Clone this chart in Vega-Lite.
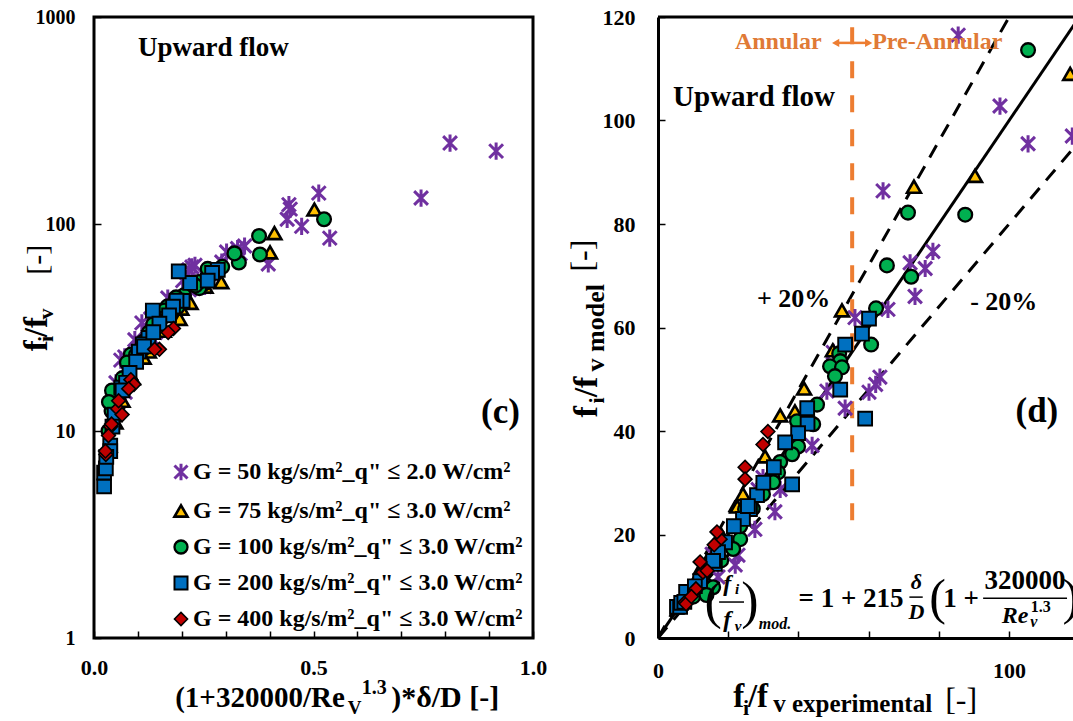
{
"$schema": "https://vega.github.io/schema/vega-lite/v6.json",
"background": "white",
"padding": {"left": 19, "top": 5, "right": 0, "bottom": 0},
"bounds": "flush",
"spacing": 125,
"config": {
  "view": {"stroke": null},
  "font": "Liberation Serif",
  "text": {"font": "Liberation Serif", "fontWeight": "bold", "color": "black"},
  "axis": {"labelFont": "Liberation Serif", "labelFontWeight": "bold", "labelFontSize": 21, "labelColor": "black", "grid": false, "tickColor": "black", "tickWidth": 1.5, "tickSize": -7, "domainColor": "black", "domainWidth": 3, "title": null, "labelFlush": false, "labelOverlap": false}
},
"datasets": {
  "pts": [
    {"g":"50","x":0.537,"e":85.5,"m":116.5},{"g":"50","x":0.473,"e":97.4,"m":102.8},{"g":"50","x":0.44,"e":105.4,"m":95.5},{"g":"50","x":0.447,"e":118,"m":97},{"g":"50","x":0.444,"e":124,"m":96.5},{"g":"50","x":0.512,"e":141,"m":111},{"g":"50","x":0.745,"e":133.5,"m":161},{"g":"50","x":0.811,"e":246,"m":175},{"g":"50","x":0.916,"e":225,"m":198},
    {"g":"50","x":0.397,"e":64.1,"m":86.4},{"g":"50","x":0.343,"e":78.3,"m":74.7},{"g":"50","x":0.333,"e":71.8,"m":72.5},{"g":"50","x":0.327,"e":76.1,"m":71.4},{"g":"50","x":0.302,"e":73.2,"m":66},{"g":"50","x":0.291,"e":65.5,"m":63.5},{"g":"50","x":0.283,"e":56.1,"m":61.9},{"g":"50","x":0.217,"e":48.1,"m":47.7},{"g":"50","x":0.202,"e":53.3,"m":44.4},{"g":"50","x":0.216,"e":60.1,"m":47.5},{"g":"50","x":0.23,"e":63.2,"m":50.4},{"g":"50","x":0.223,"e":62,"m":49},{"g":"50","x":0.168,"e":43.9,"m":37.2},{"g":"50","x":0.14,"e":29.9,"m":31},{"g":"50","x":0.129,"e":34.8,"m":28.7},{"g":"50","x":0.109,"e":33.3,"m":24.4},{"g":"50","x":0.093,"e":27.6,"m":21},{"g":"50","x":0.07,"e":22.8,"m":16},{"g":"50","x":0.252,"e":49.9,"m":55.2},{"g":"50","x":0.071,"e":15.4,"m":16.2},{"g":"50","x":0.129,"e":28.5,"m":28.7},{"g":"50","x":0.061,"e":22,"m":14.1},{"g":"50","x":0.05,"e":17.1,"m":11.8},
    {"g":"75","x":0.502,"e":117.4,"m":109},{"g":"75","x":0.411,"e":90.3,"m":89.3},{"g":"75","x":0.401,"e":72.9,"m":87.2},{"g":"75","x":0.29,"e":52.4,"m":63.3},{"g":"75","x":0.22,"e":41.6,"m":48.2},{"g":"75","x":0.195,"e":34.8,"m":43},{"g":"75","x":0.199,"e":39,"m":43.8},{"g":"75","x":0.159,"e":30.5,"m":35.1},{"g":"75","x":0.125,"e":24.2,"m":27.8},{"g":"75","x":0.254,"e":49.8,"m":55.6},{"g":"75","x":0.113,"e":22.6,"m":25.4},{"g":"75","x":0.088,"e":18,"m":20},{"g":"75","x":0.065,"e":14,"m":15},{"g":"75","x":0.049,"e":11,"m":11.5},{"g":"75","x":0.035,"e":8.5,"m":8.5},
    {"g":"100","x":0.524,"e":105.4,"m":113.6},{"g":"100","x":0.376,"e":87.5,"m":81.8},{"g":"100","x":0.378,"e":71.2,"m":82.2},{"g":"100","x":0.33,"e":65.2,"m":72},{"g":"100","x":0.32,"e":72.1,"m":69.8},{"g":"100","x":0.292,"e":62.1,"m":63.7},{"g":"100","x":0.259,"e":60.7,"m":56.7},{"g":"100","x":0.251,"e":51.6,"m":55},{"g":"100","x":0.244,"e":51.9,"m":53.5},{"g":"100","x":0.24,"e":49,"m":52.5},{"g":"100","x":0.239,"e":52.4,"m":52.3},{"g":"100","x":0.231,"e":50.4,"m":50.6},{"g":"100","x":0.205,"e":45.3,"m":45.1},{"g":"100","x":0.187,"e":44.2,"m":41.3},{"g":"100","x":0.167,"e":39.9,"m":37},{"g":"100","x":0.16,"e":38.2,"m":35.5},{"g":"100","x":0.153,"e":34.8,"m":34},{"g":"100","x":0.144,"e":34.2,"m":32},{"g":"100","x":0.14,"e":32.5,"m":31.1},{"g":"100","x":0.19,"e":39.6,"m":41.9},{"g":"100","x":0.135,"e":32.8,"m":30.1},{"g":"100","x":0.125,"e":29.9,"m":27.8},{"g":"100","x":0.084,"e":23.4,"m":19.1},{"g":"100","x":0.075,"e":21.4,"m":17.2},{"g":"100","x":0.042,"e":14,"m":10},{"g":"100","x":0.04,"e":12.5,"m":9.5},{"g":"100","x":0.041,"e":15.7,"m":9.8},{"g":"100","x":0.111,"e":24.8,"m":24.9},{"g":"100","x":0.096,"e":23.4,"m":21.6},{"g":"100","x":0.112,"e":27,"m":25},{"g":"100","x":0.065,"e":18,"m":15},{"g":"100","x":0.033,"e":10,"m":8},{"g":"100","x":0.034,"e":13.8,"m":8.3},
    {"g":"200","x":0.282,"e":60.1,"m":61.7},{"g":"200","x":0.269,"e":58.1,"m":58.8},{"g":"200","x":0.259,"e":53.3,"m":56.7},{"g":"200","x":0.219,"e":51.9,"m":48},{"g":"200","x":0.193,"e":59,"m":42.4},{"g":"200","x":0.202,"e":42.5,"m":44.4},{"g":"200","x":0.188,"e":42.6,"m":41.4},{"g":"200","x":0.18,"e":39.9,"m":39.6},{"g":"200","x":0.171,"e":36.2,"m":37.8},{"g":"200","x":0.134,"e":38.2,"m":29.7},{"g":"200","x":0.124,"e":28.2,"m":27.6},{"g":"200","x":0.111,"e":26.2,"m":24.9},{"g":"200","x":0.102,"e":24.2,"m":23},{"g":"200","x":0.096,"e":21.6,"m":21.6},{"g":"200","x":0.081,"e":19.1,"m":18.5},{"g":"200","x":0.062,"e":16.2,"m":14.3},{"g":"200","x":0.073,"e":17.1,"m":16.6},{"g":"200","x":0.065,"e":15.7,"m":14.9},{"g":"200","x":0.023,"e":5.4,"m":6},{"g":"200","x":0.037,"e":8.5,"m":8.9},{"g":"200","x":0.023,"e":6.3,"m":6},{"g":"200","x":0.037,"e":8,"m":8.9},{"g":"200","x":0.114,"e":25.6,"m":25.5},{"g":"200","x":0.047,"e":12,"m":11},{"g":"200","x":0.042,"e":10.5,"m":10},{"g":"200","x":0.027,"e":6.6,"m":6.8},{"g":"200","x":0.028,"e":7.5,"m":7},{"g":"200","x":0.149,"e":33,"m":33},{"g":"200","x":0.135,"e":30,"m":30},
    {"g":"400","x":0.181,"e":31.3,"m":39.9},{"g":"400","x":0.169,"e":29.9,"m":37.4},{"g":"400","x":0.149,"e":24.8,"m":33},{"g":"400","x":0.138,"e":24.8,"m":30.7},{"g":"400","x":0.084,"e":17.7,"m":19.1},{"g":"400","x":0.091,"e":16.8,"m":20.5},{"g":"400","x":0.054,"e":12.8,"m":12.7},{"g":"400","x":0.064,"e":12,"m":14.7},{"g":"400","x":0.038,"e":10.5,"m":9.1},{"g":"400","x":0.027,"e":7.7,"m":6.9},{"g":"400","x":0.04,"e":10.8,"m":9.5},{"g":"400","x":0.026,"e":8,"m":6.6},{"g":"400","x":0.079,"e":16,"m":18},{"g":"400","x":0.033,"e":9.5,"m":8},{"g":"400","x":0.056,"e":14,"m":13}
  ],
  "lines": [
    {"s":"a","e":0,"m":0},{"s":"a","e":120,"m":120},
    {"s":"b","e":0,"m":0},{"s":"b","e":100,"m":120},
    {"s":"c","e":0,"m":0},{"s":"c","e":150,"m":120}
  ]
},
"resolve": {"scale": {"fill": "independent", "stroke": "independent", "shape": "independent", "strokeWidth": "independent"}},
"hconcat": [
{
  "width": 439, "height": 621,
  "view": {"stroke": "black", "strokeWidth": 3},
  "layer": [
    {
      "data": {"name": "pts"},
      "mark": {"type": "point", "filled": true, "size": 190, "opacity": 1, "clip": true},
      "encoding": {
        "x": {"field": "x", "type": "quantitative", "scale": {"domain": [0, 1], "nice": false, "zero": false},
              "axis": {"values": [0,0.1,0.2,0.3,0.4,0.5,0.6,0.7,0.8,0.9,1], "labelExpr": "abs(datum.value*2-round(datum.value*2))<0.001 ? format(datum.value,'.1f') : ''", "domain": false, "labelPadding": 26, "labelFontSize": 22}},
        "y": {"field": "e", "type": "quantitative", "scale": {"type": "log", "domain": [1, 1000], "nice": false},
              "axis": {"values": [1, 10, 100, 1000], "format": "d", "domain": false, "labelPadding": 26, "labelFontSize": 20}},
        "shape": {"field": "g", "type": "nominal", "scale": {"domain": ["50","75","100","200","400"], "range": ["M-1,-1L1,1M-1,1L1,-1M0,-1.25L0,1.25", "triangle-up", "circle", "square", "diamond"]},
                  "legend": {"title": null, "orient": "none", "legendX": 75, "legendY": 443, "labelFont": "Liberation Serif", "labelFontWeight": "bold", "labelFontSize": 24, "labelColor": "black", "labelLimit": 0, "symbolSize": 170, "symbolStrokeWidth": 2, "rowPadding": 12, "labelOffset": 0, "labelExpr": "'G = ' + datum.label + ' kg/s/m²_q\" ≤ ' + (datum.label == '50' ? '2.0' : '3.0') + ' W/cm²'"}},
        "fill": {"field": "g", "type": "nominal", "scale": {"domain": ["50","75","100","200","400"], "range": ["transparent", "#FFC000", "#00B050", "#0070C0", "#C00000"]},
                  "legend": {"title": null, "orient": "none", "legendX": 75, "legendY": 443, "labelFont": "Liberation Serif", "labelFontWeight": "bold", "labelFontSize": 24, "labelColor": "black", "labelLimit": 0, "symbolSize": 170, "symbolStrokeWidth": 2, "rowPadding": 12, "labelOffset": 0, "labelExpr": "'G = ' + datum.label + ' kg/s/m²_q\" ≤ ' + (datum.label == '50' ? '2.0' : '3.0') + ' W/cm²'"}},
        "stroke": {"field": "g", "type": "nominal", "scale": {"domain": ["50","75","100","200","400"], "range": ["#7030A0", "black", "black", "black", "black"]},
                  "legend": {"title": null, "orient": "none", "legendX": 75, "legendY": 443, "labelFont": "Liberation Serif", "labelFontWeight": "bold", "labelFontSize": 24, "labelColor": "black", "labelLimit": 0, "symbolSize": 170, "symbolStrokeWidth": 2, "rowPadding": 12, "labelOffset": 0, "labelExpr": "'G = ' + datum.label + ' kg/s/m²_q\" ≤ ' + (datum.label == '50' ? '2.0' : '3.0') + ' W/cm²'"}},
        "strokeWidth": {"field": "g", "type": "ordinal", "scale": {"domain": ["50","75","100","200","400"], "range": [3, 1.6, 1.6, 1.6, 1.6]}, "legend": null}
      }
    },
    {"data": {"values": [{}]}, "mark": {"type": "text", "text": "Upward flow", "align": "left", "baseline": "middle", "fontSize": 27},
     "encoding": {"x": {"datum": 0.1}, "y": {"datum": 708}}},
    {"data": {"values": [{}]}, "mark": {"type": "text", "text": "(c)", "align": "right", "baseline": "middle", "fontSize": 35},
     "encoding": {"x": {"datum": 0.97}, "y": {"datum": 12.4}}},
    {"data": {"values": [{}]}, "mark": {"type": "text", "text": "f", "align": "left", "baseline": "alphabetic", "fontSize": 33, "angle": 270},
     "encoding": {"x": {"datum": -0.107}, "y": {"datum": 24.3}}},
    {"data": {"values": [{}]}, "mark": {"type": "text", "text": "i", "align": "left", "baseline": "alphabetic", "fontSize": 22, "angle": 270},
     "encoding": {"x": {"datum": -0.093}, "y": {"datum": 26.9}}},
    {"data": {"values": [{}]}, "mark": {"type": "text", "text": "/f", "align": "left", "baseline": "alphabetic", "fontSize": 33, "angle": 270},
     "encoding": {"x": {"datum": -0.107}, "y": {"datum": 28.4}}},
    {"data": {"values": [{}]}, "mark": {"type": "text", "text": "v", "align": "left", "baseline": "alphabetic", "fontSize": 22, "angle": 270},
     "encoding": {"x": {"datum": -0.093}, "y": {"datum": 34.6}}},
    {"data": {"values": [{}]}, "mark": {"type": "text", "text": "[-]", "align": "left", "baseline": "alphabetic", "fontSize": 30, "fontWeight": "normal", "angle": 270},
     "encoding": {"x": {"datum": -0.107}, "y": {"datum": 56.8}}},
    {"data": {"values": [{}]}, "mark": {"type": "text", "text": "(1+320000/Re", "align": "left", "baseline": "alphabetic", "fontSize": 29},
     "encoding": {"x": {"datum": 0.185}, "y": {"datum": 0.464}}},
    {"data": {"values": [{}]}, "mark": {"type": "text", "text": "V", "align": "left", "baseline": "alphabetic", "fontSize": 19},
     "encoding": {"x": {"datum": 0.578}, "y": {"datum": 0.43}}},
    {"data": {"values": [{}]}, "mark": {"type": "text", "text": "1.3", "align": "left", "baseline": "alphabetic", "fontSize": 20},
     "encoding": {"x": {"datum": 0.61}, "y": {"datum": 0.536}}},
    {"data": {"values": [{}]}, "mark": {"type": "text", "text": ")*δ/D [-]", "align": "left", "baseline": "alphabetic", "fontSize": 30},
     "encoding": {"x": {"datum": 0.677}, "y": {"datum": 0.464}}}
  ]
},
{
  "width": 415, "height": 621,
  "layer": [
    {
      "data": {"name": "lines"}, "transform": [{"filter": "datum.s == 'a'"}],
      "mark": {"type": "line", "color": "black", "strokeWidth": 3, "clip": true},
      "encoding": {
        "x": {"field": "e", "type": "quantitative", "scale": {"domain": [0, 118.2], "nice": false, "zero": false},
              "axis": {"values": [0,10,20,30,40,50,60,70,80,90,100,110], "labelExpr": "datum.value % 50 == 0 ? datum.label : ''", "domain": true, "labelPadding": 29, "labelFontSize": 22}},
        "y": {"field": "m", "type": "quantitative", "scale": {"domain": [0, 120], "nice": false},
              "axis": {"values": [0,20,40,60,80,100,120], "domain": true, "labelPadding": 30, "labelFontSize": 22}}
      }
    },
    {
      "data": {"name": "lines"}, "transform": [{"filter": "datum.s != 'a'"}],
      "mark": {"type": "line", "color": "black", "strokeWidth": 3, "strokeDash": [14, 10], "clip": true},
      "encoding": {
        "x": {"field": "e", "type": "quantitative"},
        "y": {"field": "m", "type": "quantitative"},
        "detail": {"field": "s", "type": "nominal"}
      }
    },
    {"data": {"values": [{}]}, "mark": {"type": "rule", "color": "#ED7D31", "strokeWidth": 4, "strokeDash": [17, 17]},
     "encoding": {"x": {"datum": 55.3}, "y": {"datum": 118}, "y2": {"datum": 20}}},
    {"data": {"values": [{}]}, "mark": {"type": "rule", "color": "#ED7D31", "strokeWidth": 2.5},
     "encoding": {"x": {"datum": 51}, "x2": {"datum": 59.6}, "y": {"datum": 115}}},
    {"data": {"values": [{}]}, "mark": {"type": "point", "shape": "triangle-left", "filled": true, "color": "#ED7D31", "size": 70, "opacity": 1},
     "encoding": {"x": {"datum": 50.6}, "y": {"datum": 115}}},
    {"data": {"values": [{}]}, "mark": {"type": "point", "shape": "triangle-right", "filled": true, "color": "#ED7D31", "size": 70, "opacity": 1},
     "encoding": {"x": {"datum": 60}, "y": {"datum": 115}}},
    {
      "data": {"name": "pts"},
      "mark": {"type": "point", "filled": true, "size": 190, "opacity": 1, "clip": true},
      "encoding": {
        "x": {"field": "e", "type": "quantitative"},
        "y": {"field": "m", "type": "quantitative"},
        "shape": {"field": "g", "type": "nominal", "scale": {"domain": ["50","75","100","200","400"], "range": ["M-1,-1L1,1M-1,1L1,-1M0,-1.25L0,1.25", "triangle-up", "circle", "square", "diamond"]}, "legend": null},
        "fill": {"field": "g", "type": "nominal", "scale": {"domain": ["50","75","100","200","400"], "range": ["transparent", "#FFC000", "#00B050", "#0070C0", "#C00000"]}, "legend": null},
        "stroke": {"field": "g", "type": "nominal", "scale": {"domain": ["50","75","100","200","400"], "range": ["#7030A0", "black", "black", "black", "black"]}, "legend": null},
        "strokeWidth": {"field": "g", "type": "ordinal", "scale": {"domain": ["50","75","100","200","400"], "range": [3, 1.6, 1.6, 1.6, 1.6]}, "legend": null}
      }
    },
    {"data": {"values": [{}]}, "mark": {"type": "rule", "color": "black", "strokeWidth": 3},
     "encoding": {"y": {"datum": 120}}},
    {"data": {"values": [{}]}, "mark": {"type": "text", "text": "Upward flow", "align": "left", "baseline": "middle", "fontSize": 29},
     "encoding": {"x": {"datum": 4.3}, "y": {"datum": 104.6}}},
    {"data": {"values": [{}]}, "mark": {"type": "text", "text": "Annular", "align": "left", "baseline": "middle", "fontSize": 24, "color": "#E07A36"},
     "encoding": {"x": {"datum": 21.9}, "y": {"datum": 115.2}}},
    {"data": {"values": [{}]}, "mark": {"type": "text", "text": "Pre-Annular", "align": "left", "baseline": "middle", "fontSize": 24, "color": "#E07A36"},
     "encoding": {"x": {"datum": 61}, "y": {"datum": 115.2}}},
    {"data": {"values": [{}]}, "mark": {"type": "text", "text": "+ 20%", "align": "left", "baseline": "middle", "fontSize": 26},
     "encoding": {"x": {"datum": 28.2}, "y": {"datum": 65.6}}},
    {"data": {"values": [{}]}, "mark": {"type": "text", "text": "- 20%", "align": "left", "baseline": "middle", "fontSize": 26},
     "encoding": {"x": {"datum": 88.9}, "y": {"datum": 65}}},
    {"data": {"values": [{}]}, "mark": {"type": "text", "text": "(d)", "align": "right", "baseline": "middle", "fontSize": 35},
     "encoding": {"x": {"datum": 114}, "y": {"datum": 43.8}}},
    {"data": {"values": [{}]}, "mark": {"type": "text", "text": "(", "align": "center", "baseline": "middle", "fontSize": 52, "fontWeight": "normal"},
     "encoding": {"x": {"datum": 15.7}, "y": {"datum": 7.0}}},
    {"data": {"values": [{}]}, "mark": {"type": "text", "text": "f", "align": "center", "baseline": "middle", "fontSize": 24, "fontStyle": "italic"},
     "encoding": {"x": {"datum": 19.7}, "y": {"datum": 10.4}}},
    {"data": {"values": [{}]}, "mark": {"type": "text", "text": "i", "align": "center", "baseline": "middle", "fontSize": 15, "fontStyle": "italic"},
     "encoding": {"x": {"datum": 22.5}, "y": {"datum": 9.5}}},
    {"data": {"values": [{}]}, "mark": {"type": "rule", "color": "black", "strokeWidth": 1.5},
     "encoding": {"x": {"datum": 17.4}, "x2": {"datum": 24.5}, "y": {"datum": 6.95}}},
    {"data": {"values": [{}]}, "mark": {"type": "text", "text": "f", "align": "center", "baseline": "middle", "fontSize": 24, "fontStyle": "italic"},
     "encoding": {"x": {"datum": 19.7}, "y": {"datum": 3.5}}},
    {"data": {"values": [{}]}, "mark": {"type": "text", "text": "v", "align": "center", "baseline": "middle", "fontSize": 15, "fontStyle": "italic"},
     "encoding": {"x": {"datum": 22.8}, "y": {"datum": 2.3}}},
    {"data": {"values": [{}]}, "mark": {"type": "text", "text": ")", "align": "center", "baseline": "middle", "fontSize": 52, "fontWeight": "normal"},
     "encoding": {"x": {"datum": 26.2}, "y": {"datum": 7.0}}},
    {"data": {"values": [{}]}, "mark": {"type": "text", "text": "mod.", "align": "center", "baseline": "middle", "fontSize": 16, "fontStyle": "italic"},
     "encoding": {"x": {"datum": 33.3}, "y": {"datum": 2.7}}},
    {"data": {"values": [{}]}, "mark": {"type": "text", "text": "= 1 + 215", "align": "center", "baseline": "middle", "fontSize": 27},
     "encoding": {"x": {"datum": 55}, "y": {"datum": 7.5}}},
    {"data": {"values": [{}]}, "mark": {"type": "text", "text": "δ", "align": "center", "baseline": "middle", "fontSize": 22, "fontStyle": "italic"},
     "encoding": {"x": {"datum": 73.6}, "y": {"datum": 10.8}}},
    {"data": {"values": [{}]}, "mark": {"type": "rule", "color": "black", "strokeWidth": 1.5},
     "encoding": {"x": {"datum": 71.6}, "x2": {"datum": 75.4}, "y": {"datum": 7.9}}},
    {"data": {"values": [{}]}, "mark": {"type": "text", "text": "D", "align": "center", "baseline": "middle", "fontSize": 22, "fontStyle": "italic"},
     "encoding": {"x": {"datum": 73.6}, "y": {"datum": 5.0}}},
    {"data": {"values": [{}]}, "mark": {"type": "text", "text": "(", "align": "center", "baseline": "middle", "fontSize": 50, "fontWeight": "normal"},
     "encoding": {"x": {"datum": 79.6}, "y": {"datum": 7.5}}},
    {"data": {"values": [{}]}, "mark": {"type": "text", "text": "1 +", "align": "center", "baseline": "middle", "fontSize": 27},
     "encoding": {"x": {"datum": 86.3}, "y": {"datum": 7.5}}},
    {"data": {"values": [{}]}, "mark": {"type": "text", "text": "320000", "align": "center", "baseline": "middle", "fontSize": 27},
     "encoding": {"x": {"datum": 104.5}, "y": {"datum": 11}}},
    {"data": {"values": [{}]}, "mark": {"type": "rule", "color": "black", "strokeWidth": 1.5},
     "encoding": {"x": {"datum": 92.6}, "x2": {"datum": 116.5}, "y": {"datum": 7.7}}},
    {"data": {"values": [{}]}, "mark": {"type": "text", "text": "Re", "align": "center", "baseline": "middle", "fontSize": 24, "fontStyle": "italic"},
     "encoding": {"x": {"datum": 101.7}, "y": {"datum": 4.2}}},
    {"data": {"values": [{}]}, "mark": {"type": "text", "text": "v", "align": "center", "baseline": "middle", "fontSize": 16, "fontStyle": "italic"},
     "encoding": {"x": {"datum": 107}, "y": {"datum": 3.1}}},
    {"data": {"values": [{}]}, "mark": {"type": "text", "text": "1.3", "align": "center", "baseline": "middle", "fontSize": 16},
     "encoding": {"x": {"datum": 109}, "y": {"datum": 6}}},
    {"data": {"values": [{}]}, "mark": {"type": "text", "text": ")", "align": "center", "baseline": "middle", "fontSize": 50, "fontWeight": "normal", "clip": true},
     "encoding": {"x": {"datum": 117.6}, "y": {"datum": 7.5}}},
    {"data": {"values": [{}]}, "mark": {"type": "text", "text": "f", "align": "left", "baseline": "alphabetic", "fontSize": 33},
     "encoding": {"x": {"datum": 21.4}, "y": {"datum": -13.3}}},
    {"data": {"values": [{}]}, "mark": {"type": "text", "text": "i", "align": "left", "baseline": "alphabetic", "fontSize": 22},
     "encoding": {"x": {"datum": 24.2}, "y": {"datum": -14.9}}},
    {"data": {"values": [{}]}, "mark": {"type": "text", "text": "/f", "align": "left", "baseline": "alphabetic", "fontSize": 33},
     "encoding": {"x": {"datum": 25.6}, "y": {"datum": -13.3}}},
    {"data": {"values": [{}]}, "mark": {"type": "text", "text": "v experimental", "align": "left", "baseline": "alphabetic", "fontSize": 25},
     "encoding": {"x": {"datum": 32.8}, "y": {"datum": -14.3}}},
    {"data": {"values": [{}]}, "mark": {"type": "text", "text": "[-]", "align": "left", "baseline": "alphabetic", "fontSize": 32, "fontWeight": "normal"},
     "encoding": {"x": {"datum": 81.8}, "y": {"datum": -13.9}}},
    {"data": {"values": [{}]}, "mark": {"type": "text", "text": "f", "align": "left", "baseline": "alphabetic", "fontSize": 34, "angle": 270},
     "encoding": {"x": {"datum": -17.4}, "y": {"datum": 42.6}}},
    {"data": {"values": [{}]}, "mark": {"type": "text", "text": "i", "align": "left", "baseline": "alphabetic", "fontSize": 22, "angle": 270},
     "encoding": {"x": {"datum": -15.4}, "y": {"datum": 45.3}}},
    {"data": {"values": [{}]}, "mark": {"type": "text", "text": "/f", "align": "left", "baseline": "alphabetic", "fontSize": 34, "angle": 270},
     "encoding": {"x": {"datum": -17.4}, "y": {"datum": 46.5}}},
    {"data": {"values": [{}]}, "mark": {"type": "text", "text": "v model", "align": "left", "baseline": "alphabetic", "fontSize": 26, "angle": 270},
     "encoding": {"x": {"datum": -15.4}, "y": {"datum": 51.5}}},
    {"data": {"values": [{}]}, "mark": {"type": "text", "text": "[-]", "align": "left", "baseline": "alphabetic", "fontSize": 32, "fontWeight": "normal", "angle": 270},
     "encoding": {"x": {"datum": -18.5}, "y": {"datum": 70.8}}}
  ]
}
]
}
